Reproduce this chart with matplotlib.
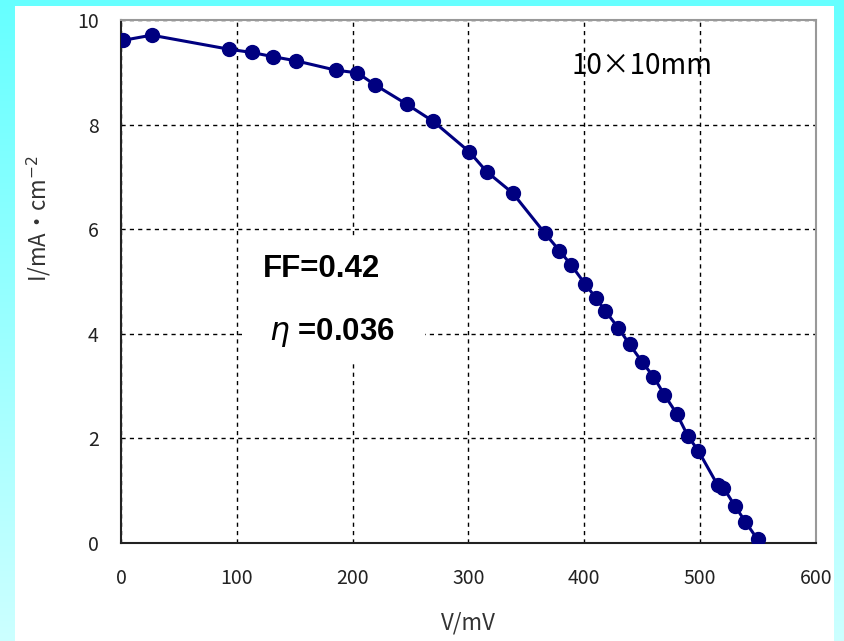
import numpy as np
import matplotlib.pyplot as plt
from matplotlib.patches import Rectangle

# I-V curve, 10x10 mm cell
voltage = [1.5, 26.5, 93.5, 112.8, 131, 151, 185.6, 204, 219.3, 246.7, 269.7,
           300.7, 315.7, 338.2, 366, 378.5, 388.5, 400.7, 410.2, 418, 429.4,
           439, 449.6, 459.7, 469.2, 479.8, 489.3, 498.5, 515, 520, 530,
           538.9, 549.5]
current = [9.61, 9.71, 9.44, 9.38, 9.30, 9.22, 9.04, 8.99, 8.76, 8.39, 8.06,
           7.48, 7.10, 6.69, 5.92, 5.59, 5.32, 4.95, 4.68, 4.44, 4.11,
           3.80, 3.47, 3.18, 2.83, 2.47, 2.05, 1.76, 1.11, 1.06, 0.71,
           0.41, 0.07]
x_ticks = [0, 100, 200, 300, 400, 500, 600]
y_ticks = [0, 2, 4, 6, 8, 10]

jp = ['Noto Sans CJK JP', 'DejaVu Sans']

fig = plt.figure(figsize=(8.45, 6.41), dpi=100)

# cyan frame with a light gradient, white panel
bg = fig.add_axes([0, 0, 1, 1])
grad = np.linspace(0, 1, 256).reshape(-1, 1)
top = np.array([0.40, 1.0, 1.0])
bottom = np.array([0.80, 1.0, 1.0])
img = top + (bottom - top) * grad[:, :, None]
bg.imshow(img, aspect='auto', extent=[0, 1, 0, 1], origin='upper')
bg.add_patch(Rectangle((15 / 845, 0), (834 - 15) / 845, (641 - 6) / 641,
                       facecolor='white', edgecolor='none'))
bg.set_xlim(0, 1)
bg.set_ylim(0, 1)
bg.axis('off')

ax = fig.add_axes([121 / 845, 98 / 641, 695 / 845, 523 / 641])
ax.set_facecolor('white')
ax.plot(voltage, current, '-o', color='#000080', lw=2.2, ms=10, zorder=4)

ax.set_xlim(0, 600)
ax.set_ylim(0, 10)
ax.set_xticks(x_ticks)
ax.set_yticks(y_ticks)
ax.tick_params(length=0, labelsize=14, colors='#222222')
ax.tick_params(axis='y', pad=16)
ax.tick_params(axis='x', pad=18)
for lab in ax.get_xticklabels() + ax.get_yticklabels():
    lab.set_family(jp)
ax.grid(True, color='black', ls=(0, (3, 3)), lw=1)

for s in ['left', 'bottom']:
    ax.spines[s].set_color('#222222')
    ax.spines[s].set_linewidth(1.5)
for s in ['top', 'right']:
    ax.spines[s].set_color('#999999')
    ax.spines[s].set_linewidth(1.5)

ax.set_xlabel('V/mV', family=jp, fontsize=16, color='#333333', labelpad=16)
ax.set_ylabel('I/mA・cm$^{-2}$', family=jp, fontsize=16, color='#333333')
ax.yaxis.set_label_coords(-0.097, 0.62)

# white box behind the FF / efficiency text
ax.add_patch(Rectangle((121 / 695, 180 / 523), 183 / 695, 125 / 523,
                       transform=ax.transAxes, facecolor='white',
                       edgecolor='none', zorder=2.5))
ax.text(0.204, 0.523, 'FF=0.42', transform=ax.transAxes, fontsize=22.5,
        family='Liberation Sans', weight='bold', va='center', zorder=3)
ax.text(0.213, 0.403, r'$\eta$ =0.036', transform=ax.transAxes, fontsize=22.5,
        family='Liberation Sans', weight='bold', va='center', zorder=3)
ax.text(0.749, 0.913, '10×10mm', transform=ax.transAxes, fontsize=20,
        family=jp, ha='center', va='center', zorder=3)

fig.savefig('out.png', dpi=100)
